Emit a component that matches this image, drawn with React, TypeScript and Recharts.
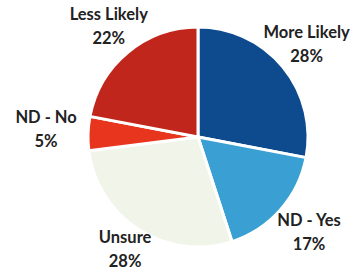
import { Cell, Pie, PieChart } from "recharts";

const categories = ["More Likely", "ND - Yes", "Unsure", "ND - No", "Less Likely"];
const shares = [28, 17, 28, 5, 22];
const colors = ["#0e4a8e", "#3a9fd2", "#f1f4e8", "#e8361e", "#c1261c"];

const data = categories.map((name, i) => ({ name, value: shares[i] }));

const RADIAN = Math.PI / 180;
// small per-slice nudges so the labels sit where the printed ones do
const labelRadius = [141, 148, 136, 152, 140];

function renderLabel(props: any) {
  const { cx, cy, midAngle, index, name, value } = props;
  const r = labelRadius[index];
  const x = cx + r * Math.cos(-midAngle * RADIAN);
  const y = cy + r * Math.sin(-midAngle * RADIAN);
  return (
    <text
      x={x}
      y={y}
      textAnchor="middle"
      fill="#222"
      fontFamily="Lato, sans-serif"
      fontWeight={700}
      fontSize={16.5}
    >
      <tspan x={x} dy={-9}>
        {name}
      </tspan>
      <tspan x={x} dy={24}>
        {value}%
      </tspan>
    </text>
  );
}

export default function App() {
  return (
    <div style={{ position: "absolute", left: 0, top: 0, background: "#fff" }}>
      <PieChart width={351} height={274}>
        <Pie
          data={data}
          dataKey="value"
          nameKey="name"
          cx={193}
          cy={132}
          outerRadius={110}
          startAngle={90}
          endAngle={-270}
          stroke="#fff"
          strokeWidth={3}
          label={renderLabel}
          labelLine={false}
          isAnimationActive={false}
        >
          {data.map((entry, i) => (
            <Cell key={entry.name} fill={colors[i]} />
          ))}
        </Pie>
      </PieChart>
    </div>
  );
}
